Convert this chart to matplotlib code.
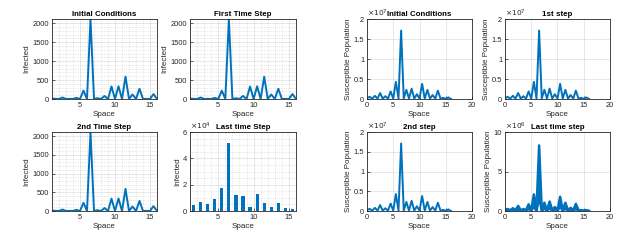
import numpy as np
import matplotlib
matplotlib.use("Agg")
import matplotlib.pyplot as plt
from matplotlib.ticker import MultipleLocator, FormatStrFormatter

plt.rcParams["font.family"] = ["Liberation Sans", "DejaVu Sans"]

# ---------------------------
# Data
# ---------------------------
# Infected, first three snapshots (they look identical)
x_inf = [1, 1.5, 2, 2.5, 3, 3.5, 4, 4.5, 5, 5.5, 6, 6.5, 7, 7.5, 8, 8.5,
         9, 9.5, 10, 10.5, 11, 11.5, 12, 12.5, 13, 13.5, 14, 14.5, 15, 15.5, 16]
y_inf = [10, 5, 0, 40, 0, 5, 0, 30, 0, 220, 0, 2110, 0, 20, 0, 80,
         0, 330, 0, 335, 0, 590, 0, 120, 0, 270, 0, 5, 0, 130, 0]

# Infected, last time step (bars, units of 1e4)
x_bar = [1.5, 2.5, 3.5, 4.5, 5.5, 6.5, 7.5, 8.5, 9.5, 10.5, 11.5, 12.5, 13.5, 14.5, 15.5]
y_bar = [0.45, 0.66, 0.53, 0.91, 1.77, 5.17, 1.21, 1.16, 0.30, 1.29, 0.58, 0.30, 0.63, 0.20, 0.13]

# Susceptible, first three snapshots (units of 1e7)
x_sus = [0, 0.5, 1, 1.5, 2, 2.5, 3, 3.5, 4, 4.5, 5, 5.5, 6, 6.5, 7, 7.5, 8,
         8.5, 9, 9.5, 10, 10.5, 11, 11.5, 12, 12.5, 13, 13.5, 14, 14.5, 15, 15.5, 16]
y_sus = [0.02, 0.055, 0.01, 0.08, 0.01, 0.15, 0.01, 0.07, 0.01, 0.19, 0.01, 0.43, 0.01,
         1.71, 0.01, 0.23, 0.01, 0.26, 0.01, 0.12, 0.01, 0.38, 0.01, 0.23, 0.01, 0.10,
         0.01, 0.21, 0.01, 0.03, 0.005, 0.04, 0.0]

# Susceptible, last time step: upper / lower envelope (units of 1e6)
y_sus_hi = [0.15, 0.25, 0.1, 0.35, 0.1, 0.65, 0.1, 0.25, 0.1, 0.85, 0.1, 2.1, 0.1,
            8.3, 0.1, 1.05, 0.1, 1.2, 0.1, 0.5, 0.1, 1.8, 0.1, 1.05, 0.1, 0.4,
            0.1, 0.9, 0.1, 0.1, 0.05, 0.1, 0.0]
y_sus_lo = [0.0, 0.08, 0.0, 0.1, 0.0, 0.2, 0.0, 0.08, 0.0, 0.3, 0.0, 0.6, 0.0,
            1.8, 0.0, 0.35, 0.0, 0.4, 0.0, 0.15, 0.0, 0.6, 0.0, 0.35, 0.0, 0.12,
            0.0, 0.3, 0.0, 0.03, 0.0, 0.03, 0.0]

BLUE = "#0072BD"
DARK = "0.15"
FS = 5.4

fig = plt.figure(figsize=(6.33, 2.45), dpi=100)

W, H = 633, 245
def add_ax(x0, x1, y0, y1):
    return fig.add_axes([x0 / W, 1 - y1 / H, (x1 - x0) / W, (y1 - y0) / H])

def style(ax, minor=False):
    for s in ax.spines.values():
        s.set_color(DARK)
        s.set_linewidth(0.6)
    ax.tick_params(direction="in", length=2.5, width=0.5, colors=DARK,
                   labelsize=FS, pad=2, top=False, right=False)
    ax.tick_params(which="minor", length=0)
    ax.grid(True, which="major", color=DARK, alpha=0.15, lw=0.5)
    if minor:
        ax.grid(True, which="minor", color=DARK, alpha=0.2, lw=0.5, linestyle=":")
    ax.set_axisbelow(True)
    ax.yaxis.set_major_formatter(FormatStrFormatter("%g"))

def labels(ax, title, ylab, expo=None):
    ax.set_title(title, fontsize=FS + 0.3, fontweight="bold", pad=2)
    ax.set_xlabel("Space", fontsize=FS + 0.4, color=DARK, labelpad=1.5)
    ax.set_ylabel(ylab, fontsize=FS + 0.4, color=DARK, labelpad=1.5)
    if expo is not None:
        ax.text(0.0, 1.005, r"$\times10^{%d}$" % expo, transform=ax.transAxes,
                fontsize=FS, color=DARK, ha="left", va="bottom")

# ---------------------------
# Infected (left block)
# ---------------------------
inf_pos = [(52, 157, 19, 99), (190, 296, 19, 99), (52, 157, 132, 211)]
inf_titles = ["Initial Conditions", "First Time Step", "2nd Time Step"]
for pos, t in zip(inf_pos, inf_titles):
    ax = add_ax(*pos)
    ax.plot(x_inf, y_inf, color=BLUE, lw=1.4)
    ax.set_xlim(1, 16)
    ax.set_ylim(0, 2110)
    ax.xaxis.set_major_locator(MultipleLocator(5))
    ax.yaxis.set_major_locator(MultipleLocator(500))
    ax.xaxis.set_minor_locator(MultipleLocator(1))
    ax.yaxis.set_minor_locator(MultipleLocator(100))
    style(ax, minor=True)
    labels(ax, t, "Infected")

ax = add_ax(190, 296, 132, 211)
ax.bar(x_bar, y_bar, width=0.45, color=BLUE, lw=0)
ax.set_xlim(1, 16)
ax.set_ylim(0, 6)
ax.xaxis.set_major_locator(MultipleLocator(5))
ax.yaxis.set_major_locator(MultipleLocator(2))
ax.xaxis.set_minor_locator(MultipleLocator(1))
ax.yaxis.set_minor_locator(MultipleLocator(0.5))
style(ax, minor=True)
labels(ax, "Last time Step", "Infected", expo=4)

# ---------------------------
# Susceptible (right block)
# ---------------------------
sus_pos = [(367, 472, 19, 99), (505, 610, 19, 99), (367, 472, 132, 211)]
sus_titles = ["Initial Conditions", "1st step", "2nd step"]
for pos, t in zip(sus_pos, sus_titles):
    ax = add_ax(*pos)
    ax.plot(x_sus, y_sus, color=BLUE, lw=1.4)
    ax.set_xlim(0, 20)
    ax.set_ylim(0, 2)
    ax.xaxis.set_major_locator(MultipleLocator(5))
    ax.yaxis.set_major_locator(MultipleLocator(0.5))
    style(ax)
    labels(ax, t, "Susceptible Population", expo=7)

ax = add_ax(505, 610, 132, 211)
ax.fill_between(x_sus, y_sus_lo, y_sus_hi, color=BLUE, lw=0)
ax.plot(x_sus, y_sus_hi, color=BLUE, lw=1.8)
ax.plot(x_sus, y_sus_lo, color=BLUE, lw=1.8)
ax.set_xlim(0, 20)
ax.set_ylim(0, 10)
ax.xaxis.set_major_locator(MultipleLocator(5))
ax.yaxis.set_major_locator(MultipleLocator(5))
style(ax)
labels(ax, "Last time step", "Susceptible Population", expo=6)

fig.savefig("out.png", dpi=100)
